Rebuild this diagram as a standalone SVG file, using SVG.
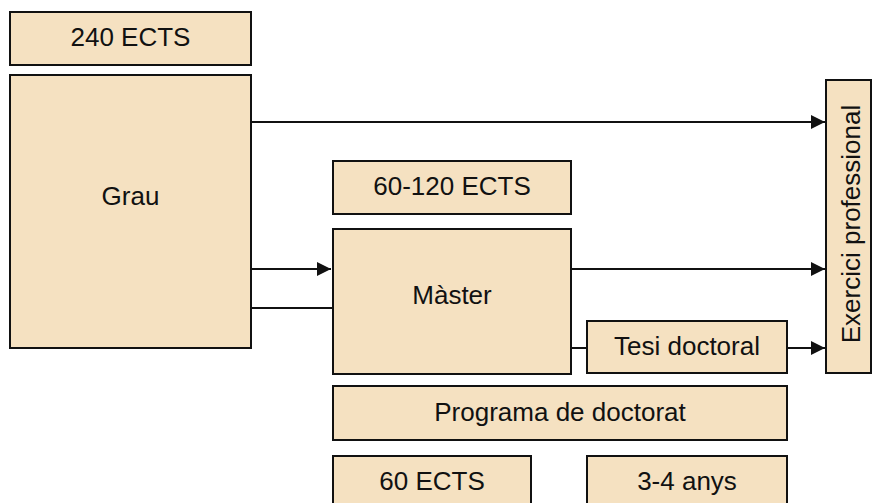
<svg xmlns="http://www.w3.org/2000/svg" width="872" height="503" viewBox="0 0 872 503">
<style>
.box{fill:#F5E1C1;stroke:#111;stroke-width:2}
.t{font-family:"Liberation Sans",Arial,sans-serif;font-size:26px;fill:#111;text-anchor:middle;dominant-baseline:central}
.c{fill:none;stroke:#111;stroke-width:2}
</style>
<defs>
<marker id="ah" viewBox="0 0 10 10" refX="10" refY="5" markerWidth="14" markerHeight="14" markerUnits="userSpaceOnUse" orient="auto">
<path d="M0,0 L10,5 L0,10 Z" fill="#111"/>
</marker>
</defs>
<rect width="872" height="503" fill="#fff"/>
<g id="connectors">
<line class="c" x1="251" y1="122" x2="825" y2="122" marker-end="url(#ah)"/>
<line class="c" x1="251" y1="269" x2="331" y2="269" marker-end="url(#ah)"/>
<line class="c" x1="251" y1="308" x2="333" y2="308"/>
<line class="c" x1="571" y1="269" x2="825" y2="269" marker-end="url(#ah)"/>
<line class="c" x1="571" y1="348" x2="587" y2="348"/>
<line class="c" x1="787" y1="348" x2="825" y2="348" marker-end="url(#ah)"/>
</g>
<g id="ects240"><rect class="box" x="10" y="12" width="241" height="53"/><text class="t" x="130.5" y="37">240 ECTS</text></g>
<g id="grau"><rect class="box" x="10" y="75" width="241" height="273"/><text class="t" x="130.5" y="196">Grau</text></g>
<g id="ects60120"><rect class="box" x="333" y="161" width="238" height="53"/><text class="t" x="452" y="186">60-120 ECTS</text></g>
<g id="master"><rect class="box" x="333" y="229" width="238" height="145"/><text class="t" x="452" y="295">Màster</text></g>
<g id="tesi"><rect class="box" x="587" y="321" width="200" height="52"/><text class="t" x="687" y="346">Tesi doctoral</text></g>
<g id="exercici"><rect class="box" x="826" y="80" width="45" height="293"/><text class="t" transform="translate(851,224) rotate(-90)">Exercici professional</text></g>
<g id="programa"><rect class="box" x="333" y="386" width="454" height="54"/><text class="t" x="560" y="412">Programa de doctorat</text></g>
<g id="ects60"><rect class="box" x="333" y="456" width="198" height="60"/><text class="t" x="432" y="481">60 ECTS</text></g>
<g id="anys"><rect class="box" x="587" y="456" width="200" height="60"/><text class="t" x="687" y="481">3-4 anys</text></g>
</svg>
